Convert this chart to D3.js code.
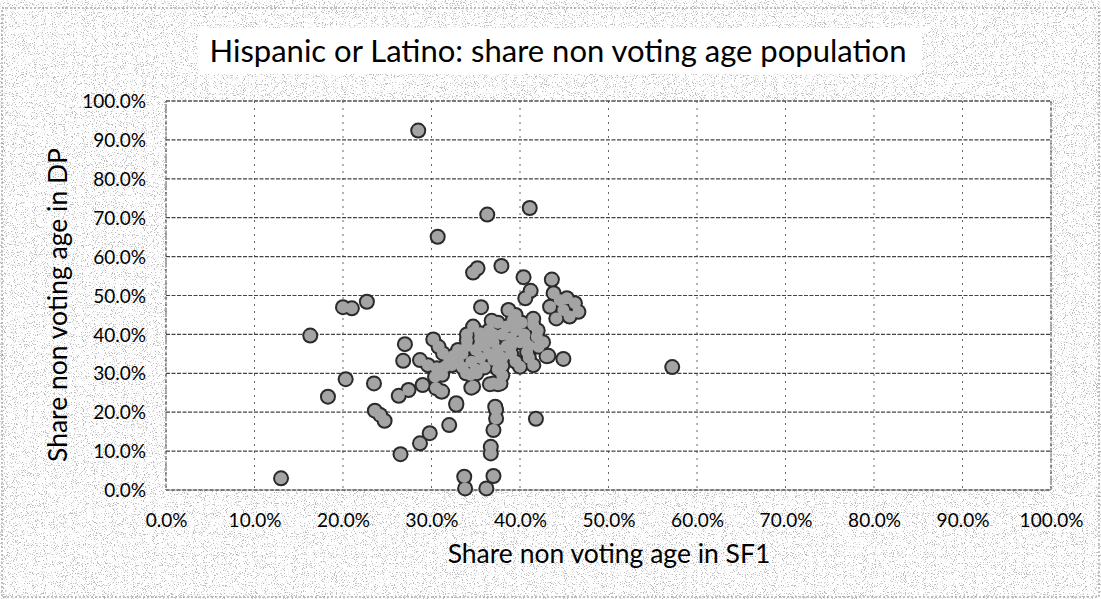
<!DOCTYPE html>
<html><head><meta charset="utf-8">
<script src="https://cdn.jsdelivr.net/npm/d3@7"></script>
<style>html,body{margin:0;padding:0;background:#fff;}svg{display:block;}</style>
</head><body>
<svg id="chart" width="1101" height="599"></svg>
<script>
// ---- data (share non voting age: SF1 on x, DP on y, in %) ----
const sf1 = [28.5,36.3,41.1,30.7,34.7,35.2,37.9,40.4,43.6,40.6,41.2,43.8,
  44.5,45.3,46.2,46.6,45.6,44.9,44.1,43.4,35.6,20.0,21.0,22.7,16.3,27.0,26.8,
  20.3,23.5,18.3,26.3,27.4,29.0,23.6,24.2,24.7,31.1,30.5,32.8,32.0,29.8,28.7,
  26.5,13.0,33.7,33.8,36.2,37.0,36.7,36.7,37.0,37.3,37.3,41.8,44.9,43.2,34.5,
  36.6,37.5,33.9,28.7,29.6,30.6,31.5,32.3,30.2,30.8,31.3,30.4,31.2,31.2,34.7,
  35.5,36.2,38.7,39.2,39.6,41.5,41.9,42.1,43.0,40.0,41.5,34.4,35.1,34.7,37.0,
  37.8,32.8,37.2,57.2,
  33.5,34.0,34.5,35.0,35.5,36.0,36.5,37.0,37.0,37.5,38.0,38.0,38.5,39.0,39.0,
  39.5,40.0,40.5,41.0,41.0,36.0,35.0,33.0,32.5,37.5,38.5,40.2,39.5,37.0,35.5,
  41.5,42.0,36.5,34.0,38.0,33.0,36.0,37.5,39.0,40.5,
  34.0,35.5,36.5,38.0,39.5,32.0,33.5,40.8,42.6,36.8];
const dp = [92.4,70.8,72.5,65.1,55.9,57.0,57.6,54.7,54.1,49.3,51.2,50.6,
  48.8,49.3,48.0,45.8,44.6,46.3,44.1,47.1,47.0,47.0,46.7,48.4,39.7,37.5,33.2,
  28.5,27.4,24.0,24.2,25.7,27.0,20.4,19.3,17.8,25.3,26.2,21.9,16.7,14.6,12.0,
  9.2,3.0,3.4,0.4,0.4,3.6,11.1,9.4,15.4,20.6,18.4,18.3,33.7,34.5,26.3,
  27.2,27.2,30.0,33.4,32.1,31.3,31.7,32.1,38.7,36.8,35.1,29.1,29.6,25.3,42.0,
  40.3,38.6,46.3,43.7,41.1,42.4,39.4,36.8,34.4,31.7,32.1,29.6,30.0,26.6,27.4,
  27.4,22.3,21.4,31.6,
  35.0,37.0,33.0,36.0,34.0,37.0,35.0,33.5,38.0,36.0,40.0,34.0,37.0,39.0,35.0,
  33.0,38.0,40.0,37.0,34.0,31.5,31.0,33.0,34.5,31.0,42.0,43.0,45.0,40.0,39.0,
  44.0,41.0,41.0,38.5,29.5,36.0,39.5,43.0,37.0,38.5,
  40.0,37.5,39.5,32.0,41.5,33.5,31.5,35.5,38.0,43.5];
const ticks = [0,10,20,30,40,50,60,70,80,90,100];
const tickLabels = ["0.0%","10.0%","20.0%","30.0%","40.0%","50.0%","60.0%","70.0%","80.0%","90.0%","100.0%"];
const titleText = "Hispanic or Latino: share non voting age population";
const xTitle = "Share non voting age in SF1";
const yTitle = "Share non voting age in DP";

const svg = d3.select("#chart");
const W = 1101, H = 599;
const font = "Lato, 'Open Sans', sans-serif";

// speckled scanned background
const defs = svg.append("defs");
const f = defs.append("filter").attr("id","noise").attr("x",0).attr("y",0).attr("width","100%").attr("height","100%");
f.append("feTurbulence").attr("type","fractalNoise").attr("baseFrequency",0.9).attr("numOctaves",2).attr("seed",7).attr("result","t");
f.append("feColorMatrix").attr("in","t").attr("type","matrix")
 .attr("values","0 0 0 0 0.2  0 0 0 0 0.2  0 0 0 0 0.2  9 0 0 0 -5.2");
svg.append("rect").attr("width",W).attr("height",H).attr("fill","#fff");
svg.append("rect").attr("width",W).attr("height",H).attr("filter","url(#noise)").attr("opacity",0.5);
svg.append("rect").attr("x",2).attr("y",8).attr("width",W-4).attr("height",H-10)
 .attr("fill","none").attr("stroke","#888").attr("stroke-width",1).attr("stroke-dasharray","2,2");

// title
svg.append("rect").attr("x",198).attr("y",28).attr("width",724).attr("height",46).attr("fill","#fff");
svg.append("text").attr("x",558).attr("y",62).attr("text-anchor","middle")
 .attr("font-family",font).attr("font-size",31).attr("fill","#000").text(titleText);

const m = {l:166, r:1051, t:101, b:490};
const x = d3.scaleLinear().domain([0,100]).range([m.l,m.r]);
const y = d3.scaleLinear().domain([0,100]).range([m.b,m.t]);

svg.append("rect").attr("x",m.l).attr("y",m.t).attr("width",m.r-m.l).attr("height",m.b-m.t).attr("fill","#fff");

// gridlines
const g = svg.append("g");
g.selectAll(".vg").data(ticks).join("line")
 .attr("x1",d=>x(d)).attr("x2",d=>x(d)).attr("y1",m.t).attr("y2",m.b)
 .attr("stroke","#666").attr("stroke-width",1).attr("stroke-dasharray","2,5");
g.selectAll(".hg").data(ticks).join("line")
 .attr("x1",m.l).attr("x2",m.r).attr("y1",d=>y(d)).attr("y2",d=>y(d))
 .attr("stroke","#444").attr("stroke-width",1.2).attr("stroke-dasharray","4,1.5");
svg.append("rect").attr("x",m.l).attr("y",m.t).attr("width",m.r-m.l).attr("height",m.b-m.t)
 .attr("fill","none").attr("stroke","#555").attr("stroke-width",1).attr("stroke-dasharray","4,1.5");

// axes (labels only)
const xa = svg.append("g").attr("transform",`translate(0,${m.b+17})`)
 .call(d3.axisBottom(x).tickValues(ticks).tickFormat((d,i)=>tickLabels[i]).tickSize(0));
xa.select(".domain").remove();
xa.selectAll("text").attr("font-family",font).attr("font-size",19).attr("fill","#000").attr("dy","0.9em");
const ya = svg.append("g").attr("transform",`translate(${m.l-17},0)`)
 .call(d3.axisLeft(y).tickValues(ticks).tickFormat((d,i)=>tickLabels[i]).tickSize(0));
ya.select(".domain").remove();
ya.selectAll("text").attr("font-family",font).attr("font-size",19).attr("fill","#000").attr("dy","0.35em");

svg.append("text").attr("x",609).attr("y",563).attr("text-anchor","middle")
 .attr("font-family",font).attr("font-size",26.5).attr("fill","#000").text(xTitle);
svg.append("text").attr("transform","translate(67,305) rotate(-90)").attr("text-anchor","middle")
 .attr("font-family",font).attr("font-size",26.5).attr("fill","#000").text(yTitle);

// points: outline layer then fill layer (merged blobs as in the scan)
const pts = sf1.map((v,i)=>({x:v,y:dp[i]}));
const pg = svg.append("g");
pg.selectAll("circle.o").data(pts).join("circle").attr("class","o")
 .attr("cx",d=>x(d.x)).attr("cy",d=>y(d.y)).attr("r",8)
 .attr("fill","#2a2a2a");
pg.selectAll("circle.i").data(pts).join("circle").attr("class","i")
 .attr("cx",d=>x(d.x)).attr("cy",d=>y(d.y)).attr("r",6)
 .attr("fill","#a4a4a4");
</script>
</body></html>
